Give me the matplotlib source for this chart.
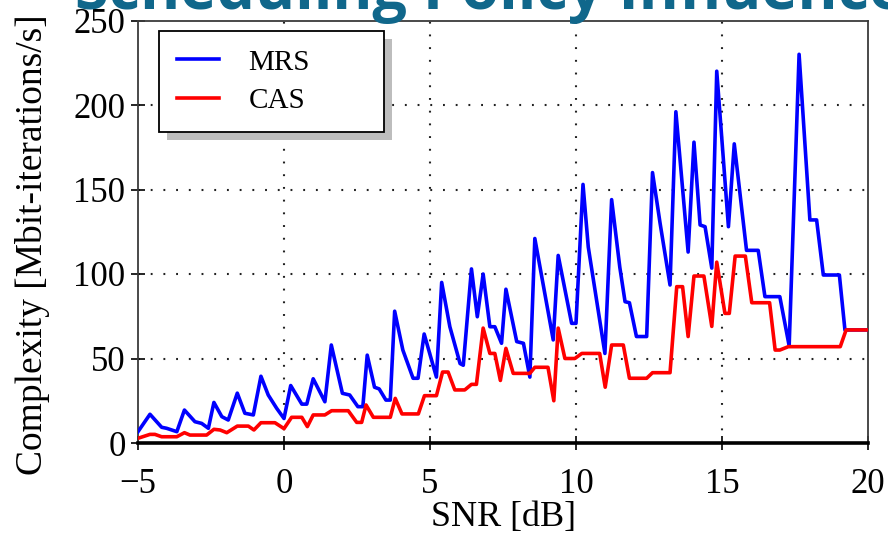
import numpy as np
import matplotlib
matplotlib.use("Agg")
import matplotlib.pyplot as plt
from matplotlib.patches import Rectangle
from matplotlib.transforms import IdentityTransform

# vertices (SNR in dB, complexity in Mbit-iterations/s)
mrs_snr = [-5, -4.59, -4.19, -4.02, -3.67, -3.41, -3.05, -2.82, -2.59, -2.40,
           -2.13, -1.91, -1.60, -1.34, -1.05, -0.79, -0.54, -0.25, 0.0, 0.23,
           0.61, 0.78, 1.0, 1.4, 1.62, 2.0, 2.25, 2.53, 2.7, 2.85,
           3.1, 3.26, 3.49, 3.64, 3.79, 4.07, 4.42, 4.59, 4.8, 5.22,
           5.4, 5.68, 6.03, 6.14, 6.42, 6.62, 6.82, 7.05, 7.22, 7.45,
           7.6, 7.97, 8.2, 8.42, 8.59, 9.22, 9.39, 9.85, 10.0, 10.24,
           10.42, 10.99, 11.22, 11.5, 11.68, 11.83, 12.07, 12.42, 12.62, 12.88,
           13.22, 13.42, 13.84, 14.04, 14.25, 14.42, 14.65, 14.82, 15.22, 15.42,
           15.84, 16.24, 16.47, 16.98, 17.3, 17.64, 18.01, 18.24, 18.47, 19.02,
           19.21, 20.0]
mrs_val = [6.7, 17, 9.3, 8.7, 6.7, 19.5, 12.6, 11.6, 8.7, 24,
           15.6, 13.6, 29.5, 17.6, 16.6, 39.5, 28.4, 20.5, 14.5, 34,
           23, 23, 38, 24.4, 58, 29.4, 28.4, 21.5, 21.5, 52,
           33, 32, 25.4, 25.4, 78, 55, 38.3, 38.3, 64.5, 39,
           95, 68.8, 47, 46, 103, 74.7, 100, 68.8, 68.8, 59,
           91, 60, 59, 39, 121, 61, 111, 70.8, 70.8, 153,
           116, 53, 144, 104, 83.6, 83, 63, 63, 160, 130,
           93.5, 196, 113, 178, 129, 128, 103.5, 220, 128, 177,
           114, 114, 86.6, 86.6, 57.5, 230, 132, 132, 99.4, 99.4,
           66.9, 66.9]

cas_snr = [-5, -4.59, -4.42, -4.19, -3.67, -3.41, -3.22, -2.65, -2.4, -2.19,
           -1.96, -1.6, -1.22, -1.03, -0.79, -0.31, 0.0, 0.26, 0.61, 0.8,
           1.0, 1.4, 1.63, 2.2, 2.49, 2.66, 2.81, 3.06, 3.64, 3.81,
           4.04, 4.6, 4.81, 5.22, 5.43, 5.62, 5.85, 6.19, 6.42, 6.59,
           6.82, 7.05, 7.22, 7.41, 7.6, 7.85, 8.42, 8.59, 9.04, 9.24,
           9.39, 9.62, 9.96, 10.2, 10.81, 11.0, 11.22, 11.62, 11.83, 12.42,
           12.62, 13.22, 13.45, 13.65, 13.84, 14.04, 14.38, 14.65, 14.82, 15.1,
           15.25, 15.45, 15.8, 16.02, 16.63, 16.82, 16.98, 17.27, 19.05, 19.25,
           20.0]
cas_val = [2.8, 5.1, 5.1, 3.7, 3.7, 6.1, 4.7, 4.7, 8.1, 7.7,
           6.1, 10, 10, 7.7, 12, 12, 8.5, 15.2, 15.2, 9.7,
           16.6, 16.6, 19.1, 19.1, 12.2, 12.2, 22.5, 15.2, 15.2, 26.4,
           17.2, 17.2, 28, 28, 42, 42, 31.4, 31.4, 34.7, 34.7,
           68, 53, 53, 37, 56, 41.2, 41.2, 44.8, 44.8, 25,
           68, 50, 50, 53, 53, 33, 58, 58, 38.3, 38.3,
           41.6, 41.6, 92.5, 92.5, 63, 98.8, 98.8, 69, 107, 76.7,
           76.7, 110.6, 110.6, 83, 83, 55, 55, 57, 57, 66.9,
           66.9]

x_ticks = [-5, 0, 5, 10, 15, 20]
y_ticks = [0, 50, 100, 150, 200, 250]

plt.rcParams['font.family'] = ['Liberation Serif', 'DejaVu Serif']

fig = plt.figure(figsize=(8.88, 5.37), dpi=100)
ax = fig.add_axes([138 / 888, 94 / 537, 730 / 888, 422.5 / 537])

ax.plot(mrs_snr, mrs_val, color='#0000ff', lw=2.6, label='MRS', zorder=3)
ax.plot(cas_snr, cas_val, color='#ff0000', lw=2.6, label='CAS', zorder=3)

ax.set_xlim(-5, 20)
ax.set_ylim(0, 250)
ax.set_xticks(x_ticks)
ax.set_yticks(y_ticks)
ax.set_xticklabels(['\u22125' if t < 0 else str(t) for t in x_ticks])

# dotted grid only at the inner ticks
for gx in x_ticks[1:-1]:
    ax.axvline(gx, color='#222222', lw=1.5, ls=(0, (0.9, 5.2)), zorder=1)
for gy in y_ticks[1:-1]:
    ax.axhline(gy, color='#222222', lw=1.5, ls=(0, (0.9, 5.2)), zorder=1)

for side in ['left', 'top', 'right']:
    ax.spines[side].set_color('#3a3a3a')
    ax.spines[side].set_linewidth(1.3)
ax.spines['bottom'].set_color('black')
ax.spines['bottom'].set_linewidth(2.6)
ax.spines['bottom'].set_zorder(4)

ax.tick_params(direction='inout', length=10, width=1.2, color='black',
               labelsize=25)
ax.tick_params(axis='x', pad=13)
ax.tick_params(axis='y', pad=4)
ax.set_xlabel('SNR [dB]', fontsize=26, labelpad=0)
ax.set_ylabel('Complexity [Mbit-iterations/s]', fontsize=27)
ax.yaxis.set_label_coords(-0.12, 0.47)

leg = ax.legend(loc='upper left', bbox_to_anchor=(0.0288, 0.5, 0.308, 0.475),
                mode='expand', borderaxespad=0, fontsize=21, fancybox=False,
                edgecolor='black', framealpha=1, handlelength=1.45,
                handletextpad=1.0, borderpad=0.62, labelspacing=0.42)
leg.get_frame().set_linewidth(1.3)
leg.set_zorder(6)

# the title of the slide, mostly cut off at the top edge
fig.text(0.085, 1 - 9 / 537, 'Scheduling Policy Influence', fontsize=44,
         fontweight='bold', color='#10678b', family='Open Sans',
         va='baseline', ha='left')

# drop shadow behind the legend box
fig.canvas.draw()
bb = leg.get_window_extent()
shadow = Rectangle((bb.x0 + 8, bb.y0 - 8), bb.width, bb.height,
                   transform=IdentityTransform(), facecolor='#bdbdbd',
                   edgecolor='none', zorder=5.5, clip_on=False)
ax.add_patch(shadow)
ax.set_xlim(-5, 20)
ax.set_ylim(0, 250)

fig.savefig('out.png', dpi=100)
